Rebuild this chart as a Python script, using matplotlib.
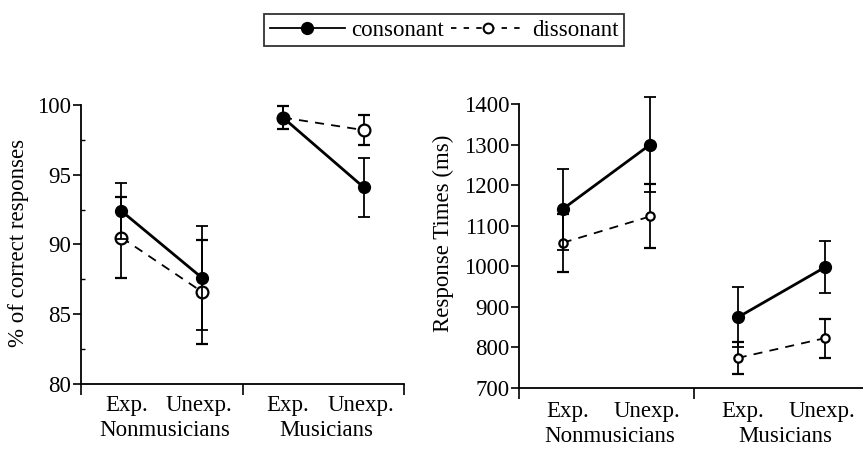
import numpy as np
import matplotlib
matplotlib.use("Agg")
import matplotlib.pyplot as plt
from matplotlib.lines import Line2D

plt.rcParams["font.family"] = ["Liberation Serif", "DejaVu Serif"]

# --- data ---
groups = ["Nonmusicians", "Musicians"]
conditions = ["Exp.", "Unexp."]
xpos = [[0.25, 0.75], [1.25, 1.75]]

acc_cons = [[92.4, 87.6], [99.1, 94.1]]
acc_cons_err = [[2.0, 3.7], [0.85, 2.1]]
acc_diss = [[90.5, 86.6], [99.1, 98.2]]
acc_diss_err = [[2.9, 3.7], [0.85, 1.1]]

rt_cons = [[1141, 1300], [874, 998]]
rt_cons_err = [[100, 118], [74, 64]]
rt_diss = [[1058, 1123], [774, 823]]
rt_diss_err = [[72, 79], [39, 48]]

fig = plt.figure(figsize=(8.63, 4.51), dpi=100)
ax1 = fig.add_axes([0.0939, 0.1486, 0.3743, 0.6186])
ax2 = fig.add_axes([0.6014, 0.1397, 0.3986, 0.6297])

FS = 16.5


def unclip(eb):
    line, caps, bars = eb.lines
    for a in [line, *caps, *bars]:
        if a is not None:
            a.set_clip_on(False)


def draw(ax, cons, cons_err, diss, diss_err, ms_diss, yoff):
    for g in range(2):
        x = xpos[g]
        unclip(ax.errorbar(x, diss[g], yerr=diss_err[g], color="black", lw=1.3,
                           ls=(0, (5, 4)), marker="o", ms=ms_diss, mfc="white",
                           mec="black", mew=1.6, ecolor="black", elinewidth=1.3,
                           capsize=4.5, capthick=1.3, zorder=2))
        unclip(ax.errorbar(x, cons[g], yerr=cons_err[g], color="black", lw=2.0,
                           ls="-", marker="o", ms=8.5, mfc="black", mec="black",
                           ecolor="black", elinewidth=1.3, capsize=4.5,
                           capthick=1.3, zorder=3))
    for sp in ["top", "right"]:
        ax.spines[sp].set_visible(False)
    for sp in ["left", "bottom"]:
        ax.spines[sp].set_linewidth(1.3)
    ax.set_xticks([0, 1, 2])
    ax.set_xticklabels([])
    ax.tick_params(axis="x", direction="out", length=8, width=1.2)
    ax.tick_params(axis="y", direction="out", length=6, width=1.2,
                   labelsize=FS, pad=1)
    # category labels
    tr = ax.get_xaxis_transform()
    for g in range(2):
        c = g + 0.5
        ax.text(c - 0.22, -yoff[0], conditions[0], transform=tr,
                ha="center", va="top", fontsize=FS)
        ax.text(c + 0.23, -yoff[0], conditions[1], transform=tr,
                ha="center", va="top", fontsize=FS)
        ax.text(c + 0.02, -yoff[1], groups[g], transform=tr,
                ha="center", va="top", fontsize=FS)


draw(ax1, acc_cons, acc_cons_err, acc_diss, acc_diss_err, 8.5, (0.04, 0.128))
ax1.set_xlim(0, 2)
ax1.set_ylim(80, 100)
ax1.set_yticks([80, 85, 90, 95, 100])
ax1.set_yticks([82.5, 87.5, 92.5, 97.5], minor=True)
ax1.tick_params(axis="y", which="minor", direction="in", length=3, width=1.0)
ax1.set_ylabel("% of correct responses", fontsize=FS)
ax1.yaxis.set_label_coords(-0.16, 0.505)

draw(ax2, rt_cons, rt_cons_err, rt_diss, rt_diss_err, 6, (0.045, 0.135))
ax2.set_xlim(0, 1.966)
ax2.set_ylim(700, 1400)
ax2.set_yticks(np.arange(700, 1401, 100))
ax2.set_ylabel("Response Times (ms)", fontsize=FS)
ax2.yaxis.set_label_coords(-0.19, 0.545)

handles = [
    Line2D([], [], color="black", lw=1.3, marker="o", ms=8.5, mfc="black"),
    Line2D([], [], color="black", lw=1.3, ls=(0, (3, 4)), marker="o", ms=7,
           mfc="white", mew=1.5),
]
leg = fig.legend(handles, ["consonant", "dissonant"], ncol=2,
                 loc="center", bbox_to_anchor=(0.5145, 0.933),
                 fontsize=FS, frameon=True, fancybox=False, handlelength=3.3,
                 columnspacing=0.3, handletextpad=0.25, borderpad=0.25,
                 borderaxespad=0)
leg.get_frame().set_edgecolor("black")
leg.get_frame().set_linewidth(1.3)

fig.savefig("out.png", dpi=100)
